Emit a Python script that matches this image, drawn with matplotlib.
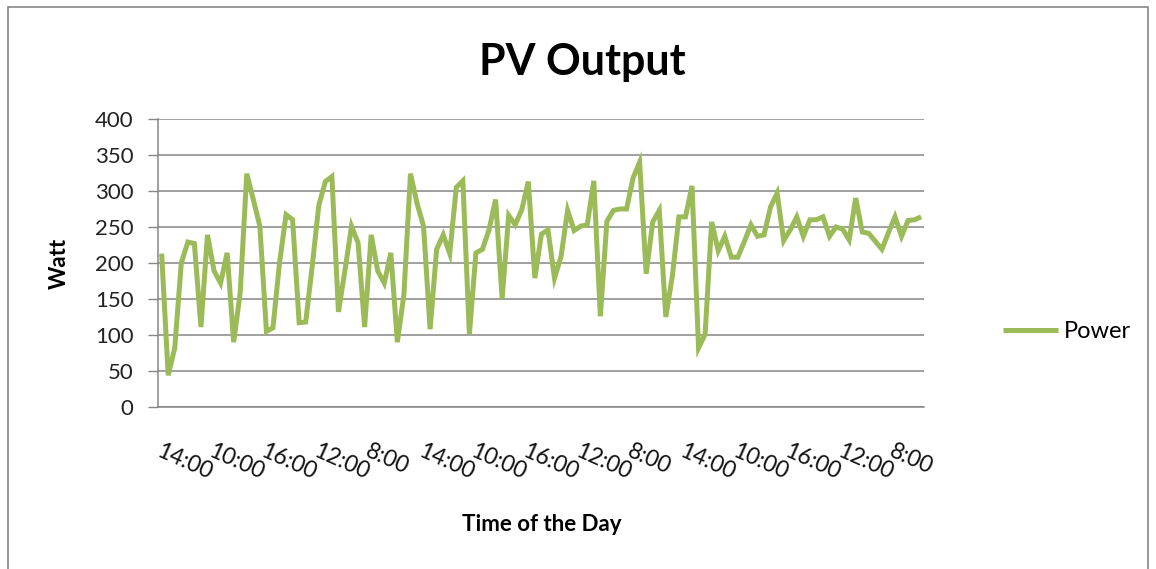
import matplotlib
matplotlib.use("Agg")
from matplotlib import pyplot as plt
from matplotlib.patches import Rectangle

plt.rcParams['font.family'] = ['Lato', 'DejaVu Sans']

# Power readings (W)
power = [213, 44, 82, 200, 229, 227, 111, 239, 189, 172,
         214, 90, 159, 324, 288, 251, 105, 110, 200, 267,
         260, 117, 118, 196, 280, 313, 320, 132, 190, 251,
         228, 111, 239, 189, 172, 214, 90, 156, 324, 283,
         251, 108, 219, 239, 213, 305, 314, 101, 214, 219,
         246, 288, 150, 266, 253, 274, 313, 179, 240, 246,
         179, 209, 273, 245, 251, 253, 314, 126, 258, 273,
         275, 275, 318, 340, 185, 257, 273, 125, 182, 264,
         264, 307, 82, 101, 257, 217, 237, 208, 208, 230,
         253, 237, 239, 278, 297, 231, 246, 264, 237, 260,
         260, 264, 237, 250, 247, 232, 290, 243, 241, 230,
         219, 242, 264, 237, 259, 260, 264]

time_labels = ['14:00', '10:00', '16:00', '12:00', '8:00'] * 3
label_step = 8
y_ticks = [0, 50, 100, 150, 200, 250, 300, 350, 400]

grid_grey = '#868686'
line_green = '#9BBB59'

fig = plt.figure(figsize=(11.56, 5.69), dpi=100)
ax = fig.add_axes([0.137, 0.2847, 0.6627, 0.5063])

x = range(len(power))
ax.plot(x, power, color=line_green, linewidth=3.6, label='Power',
        solid_joinstyle='miter', solid_capstyle='butt')

ax.set_xlim(-0.5, len(power) - 0.5)
ax.set_ylim(0, 400)
ax.set_yticks(y_ticks)
ax.set_yticklabels([str(v) for v in y_ticks], fontsize=16, color='#222222')
ax.yaxis.grid(True, color=grid_grey, linewidth=1.1)
ax.set_axisbelow(True)

# category labels every 8 readings, slanted like the original
ax.set_xticks(list(range(0, len(power), label_step))[:len(time_labels)])
ax.set_xticklabels(time_labels, fontsize=16.5, rotation=-24, ha='left', va='top',
                   rotation_mode='anchor', color='#111111')
ax.tick_params(axis='x', length=0, pad=24)
ax.tick_params(axis='y', length=7, width=1, color=grid_grey, pad=11)

for side in ['top', 'right']:
    ax.spines[side].set_visible(False)
for side in ['left', 'bottom']:
    ax.spines[side].set_color(grid_grey)
    ax.spines[side].set_linewidth(1.1)

ax.set_ylabel('Watt', fontsize=16, fontweight='bold', labelpad=18)
ax.set_xlabel('Time of the Day', fontsize=16, fontweight='bold', labelpad=22)
fig.text(0.5035, 0.868, 'PV Output', fontsize=31, fontweight='bold',
         ha='center', va='baseline')

ax.legend(loc='center left', bbox_to_anchor=(0.849, 0.417),
          bbox_transform=fig.transFigure, frameon=False, fontsize=17,
          handlelength=2.35, handletextpad=0.25)

# outer chart border
fig.patches.append(Rectangle((8 / 1156, -0.02), 1140 / 1156, 1.02 - 7 / 569,
                             transform=fig.transFigure, fill=False,
                             edgecolor=grid_grey, linewidth=1.2))

plt.savefig('out.png', dpi=100)
